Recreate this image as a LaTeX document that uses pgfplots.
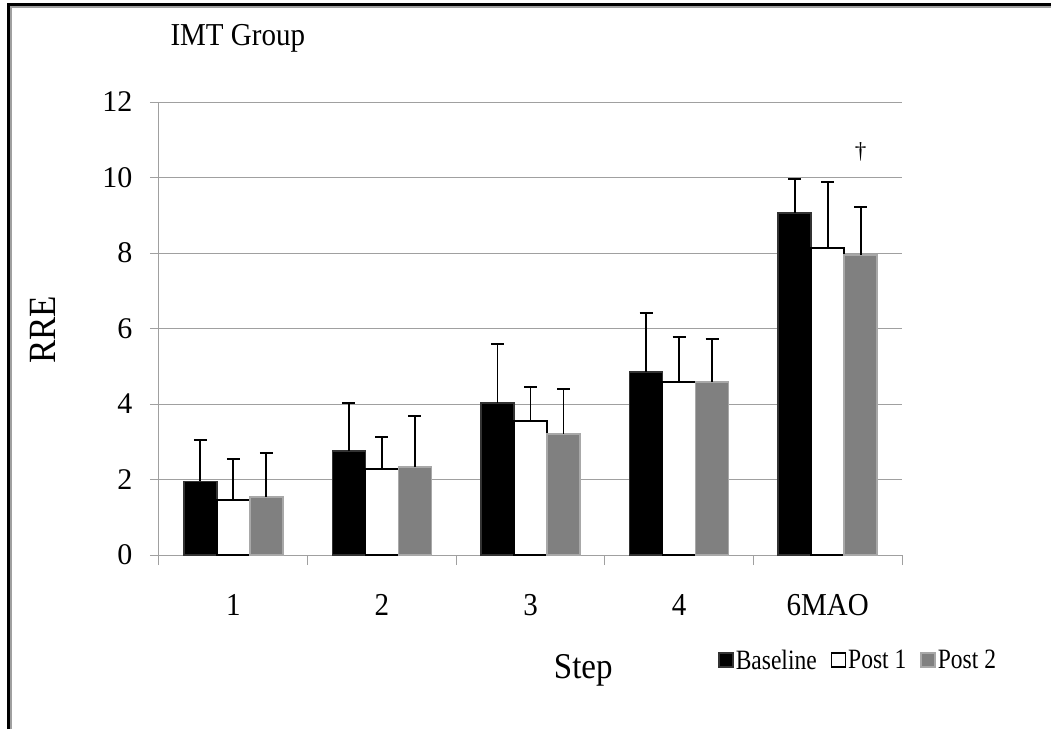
\documentclass[border=0pt]{standalone}
\usepackage{fontspec}
\setmainfont{Liberation Serif}
\usepackage{pgfplots}
\pgfplotsset{compat=1.18}
\definecolor{gridgray}{HTML}{A0A0A0}
\definecolor{bargray}{HTML}{808080}
\definecolor{baredge}{HTML}{A8A8A8}
\newcommand{\vs}[1]{\scalebox{1}[1.1]{#1}}
\begin{document}
\begin{tikzpicture}
\useasboundingbox (-159pt,-174pt) rectangle (892pt,555pt);
\begin{axis}[
  scale only axis, width=743pt, height=453pt,
  xmin=-0.5, xmax=4.5, ymin=0, ymax=12,
  ytick={0,2,...,12},
  xtick={0,...,4}, xticklabels={\vs{1},\vs{2},\vs{3},\vs{4},\vs{6MAO}},
  minor xtick={-0.5,0.5,...,4.5},
  tick align=outside, major tick length=9pt, minor tick length=10pt,
  major x tick style={draw=none},
  every tick/.append style={gridgray, line width=1pt},
  axis x line*=bottom, axis y line*=left,
  axis line style={gridgray, line width=1pt, -},
  ymajorgrids, major grid style={gridgray, line width=1pt},
  ybar=0pt, bar width=33pt,
  /pgf/number format/assume math mode=true,
  tick label style={font=\fontsize{30}{36}\selectfont},
  yticklabel style={xshift=-14pt},
  xticklabel style={yshift=-27pt, font=\fontsize{29}{36}\selectfont},
  xlabel={\vs{Step}}, ylabel={\vs{RRE}},
  x label style={font=\fontsize{33}{38}\selectfont, at={(axis description cs:0.571,0)}, anchor=center, yshift=-115pt},
  y label style={font=\fontsize{35}{40}\selectfont, at={(axis description cs:-0.156,0.497)}, anchor=center},
  error bars/error bar style={black, line width=1.8pt},
  error bars/error mark options={rotate=90, black, line width=2.6pt, mark size=6.5pt},
  legend columns=3,
  legend style={draw=none, fill=none, at={(0.941,-0.232)}, anchor=center,
    font=\fontsize{28}{30}\selectfont,
    /tikz/every even column/.append style={column sep=12pt}},
  legend image code/.code={\draw[#1, line width=1.5pt] (0pt,-7pt) rectangle (14pt,7pt);},
]
\addplot[fill=black, draw=black!80, line width=1.5pt,
  error bars/.cd, y dir=plus, y explicit] coordinates {
  (0,1.95) +- (0,1.10)
  (1,2.75) +- (0,1.28)
  (2,4.03) +- (0,1.56)
  (3,4.85) +- (0,1.56)
  (4,9.06) +- (0,0.90)
};
\addplot[fill=white, draw=black, line width=1.5pt,
  error bars/.cd, y dir=plus, y explicit] coordinates {
  (0,1.46) +- (0,1.08)
  (1,2.28) +- (0,0.85)
  (2,3.55) +- (0,0.90)
  (3,4.58) +- (0,1.20)
  (4,8.13) +- (0,1.75)
};
\addplot[fill=bargray, draw=baredge, line width=1.5pt,
  error bars/.cd, y dir=plus, y explicit] coordinates {
  (0,1.54) +- (0,1.16)
  (1,2.33) +- (0,1.35)
  (2,3.21) +- (0,1.19)
  (3,4.58) +- (0,1.14)
  (4,7.95) +- (0,1.27)
};
\legend{\scalebox{0.84}[1]{Baseline}, \scalebox{0.84}[1]{Post 1}, \scalebox{0.84}[1]{Post 2}}
\node[font=\fontsize{23}{25}\selectfont] at (axis cs:4,10.68) [xshift=33pt] {\dag};
\end{axis}
\node[anchor=base west, font=\fontsize{29}{34}\selectfont] at (8pt,509pt) {\vs{IMT Group}};
\draw[black, line width=3pt] (-150.5pt,-174pt) -- (-150.5pt,550pt) -- (892pt,550pt);
\draw[gridgray, line width=2pt] (-148pt,-174pt) -- (-148pt,547.5pt) -- (892pt,547.5pt);
\end{tikzpicture}
\end{document}
